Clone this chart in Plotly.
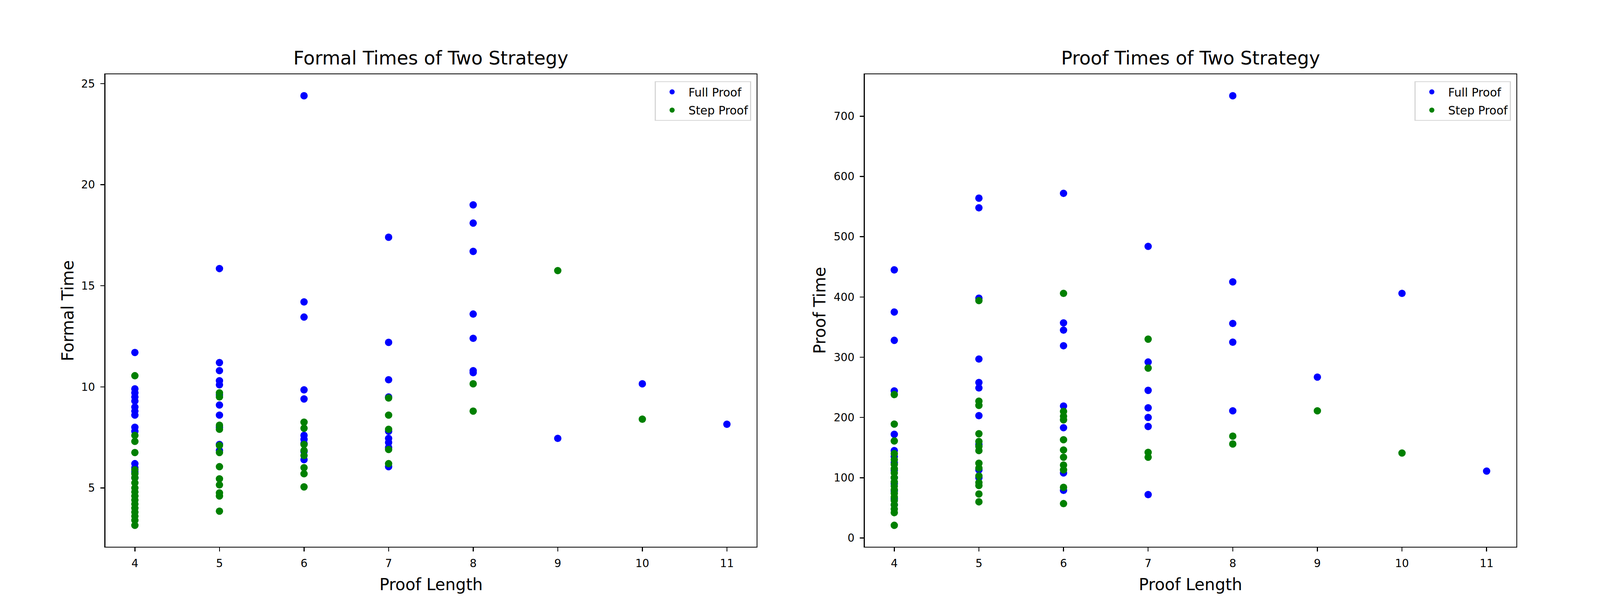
import plotly.graph_objects as go

# ---------------- data ----------------
lengths_ticks = [4, 5, 6, 7, 8, 9, 10, 11]

formal_full_len = [4, 4, 4, 4, 4, 4, 4, 4, 4, 4, 4, 4, 4, 4,
                   5, 5, 5, 5, 5, 5, 5, 5, 5, 5, 5,
                   6, 6, 6, 6, 6, 6, 6, 6, 6, 6,
                   7, 7, 7, 7, 7, 7, 7, 7, 7,
                   8, 8, 8, 8, 8, 8, 8,
                   9, 10, 11]
formal_full_time = [11.7, 9.9, 9.7, 9.5, 9.3, 9.0, 8.8, 8.6, 8.0, 7.8, 6.2, 6.0, 5.8, 5.5,
                    15.85, 11.2, 10.8, 10.3, 10.1, 9.6, 9.1, 8.6, 8.0, 7.15, 6.85,
                    24.4, 14.2, 13.45, 9.85, 9.4, 7.6, 7.4, 7.2, 6.8, 6.4,
                    17.4, 12.2, 10.35, 9.5, 7.8, 7.45, 7.25, 7.0, 6.05,
                    19.0, 18.1, 16.7, 13.6, 12.4, 10.8, 10.7,
                    7.45, 10.15, 8.15]

formal_step_len = [4, 4, 4, 4, 4, 4, 4, 4, 4, 4, 4, 4, 4, 4, 4, 4, 4, 4,
                   5, 5, 5, 5, 5, 5, 5, 5, 5, 5, 5, 5,
                   6, 6, 6, 6, 6, 6, 6, 6,
                   7, 7, 7, 7, 7,
                   8, 8,
                   9, 10]
formal_step_time = [10.55, 7.6, 7.3, 6.75, 5.9, 5.7, 5.5, 5.25, 5.0, 4.8, 4.6, 4.4, 4.2, 4.0, 3.8, 3.6, 3.4, 3.15,
                    9.7, 9.5, 8.1, 7.9, 7.1, 6.75, 6.05, 5.45, 5.15, 4.75, 4.6, 3.85,
                    8.25, 7.95, 7.15, 6.85, 6.6, 6.0, 5.7, 5.05,
                    9.45, 8.6, 7.9, 6.9, 6.2,
                    10.15, 8.8,
                    15.75, 8.4]

proof_full_len = [4, 4, 4, 4, 4, 4, 4, 4, 4, 4, 4, 4, 4, 4,
                  5, 5, 5, 5, 5, 5, 5, 5, 5, 5,
                  6, 6, 6, 6, 6, 6, 6, 6,
                  7, 7, 7, 7, 7, 7, 7,
                  8, 8, 8, 8, 8,
                  9, 10, 11]
proof_full_time = [445, 375, 328, 244, 172, 145, 135, 125, 112, 100, 90, 78, 65, 55,
                   564, 548, 398, 297, 258, 249, 203, 155, 113, 100,
                   572, 357, 345, 319, 219, 183, 108, 79,
                   484, 292, 245, 216, 200, 185, 72,
                   734, 425, 356, 325, 211,
                   267, 406, 111]

proof_step_len = [4, 4, 4, 4, 4, 4, 4, 4, 4, 4, 4, 4, 4, 4, 4, 4, 4, 4, 4,
                  5, 5, 5, 5, 5, 5, 5, 5, 5, 5, 5, 5, 5, 5,
                  6, 6, 6, 6, 6, 6, 6, 6, 6, 6, 6,
                  7, 7, 7, 7,
                  8, 8,
                  9, 10]
proof_step_time = [238, 189, 161, 140, 130, 122, 115, 108, 100, 93, 86, 80, 74, 68, 62, 55, 48, 42, 21,
                   394, 227, 220, 173, 160, 152, 145, 124, 116, 103, 92, 87, 73, 60,
                   406, 210, 202, 196, 163, 146, 134, 121, 113, 84, 57,
                   330, 282, 142, 134,
                   169, 156,
                   211, 141]

formal_yticks = [5, 10, 15, 20, 25]
proof_yticks = [0, 100, 200, 300, 400, 500, 600, 700]

# ---------------- layout constants (design pixels) ----------------
W, H = 4985, 1571
FONT = "DejaVu Sans"
TICK_FS = 34
LABEL_FS = 51
TITLE_FS = 58
LEG_FS = 36
MS = 23


def px_x(p):
    return p / W


def px_y(p):
    return 1 - p / H


ax_top, ax_bot = 190, 1399
left_dom = [px_x(328), px_x(2357)]
right_dom = [px_x(2694), px_x(4724)]
ydom = [px_y(ax_bot), px_y(ax_top)]

fig = go.Figure()

fig.add_trace(go.Scatter(x=formal_full_len, y=formal_full_time, mode="markers",
                         name="Full Proof", marker=dict(color="blue", size=MS, line=dict(width=0)),
                         xaxis="x", yaxis="y", legend="legend", legendgroup="a"))
fig.add_trace(go.Scatter(x=formal_step_len, y=formal_step_time, mode="markers",
                         name="Step Proof", marker=dict(color="green", size=MS, line=dict(width=0)),
                         xaxis="x", yaxis="y", legend="legend", legendgroup="b"))
fig.add_trace(go.Scatter(x=proof_full_len, y=proof_full_time, mode="markers",
                         name="Full Proof", marker=dict(color="blue", size=MS, line=dict(width=0)),
                         xaxis="x2", yaxis="y2", legend="legend2", legendgroup="c"))
fig.add_trace(go.Scatter(x=proof_step_len, y=proof_step_time, mode="markers",
                         name="Step Proof", marker=dict(color="green", size=MS, line=dict(width=0)),
                         xaxis="x2", yaxis="y2", legend="legend2", legendgroup="d"))

axis_common = dict(showline=True, linecolor="black", linewidth=3, mirror=True,
                   showgrid=False, zeroline=False, ticks="outside", ticklen=12,
                   tickwidth=3, tickcolor="black",
                   tickfont=dict(family=FONT, size=TICK_FS, color="black"))


def pad_range(vals, frac=0.05):
    lo, hi = min(vals), max(vals)
    d = (hi - lo) * frac
    return [lo - d, hi + d]


x1_range = pad_range(formal_full_len + formal_step_len)
x2_range = pad_range(proof_full_len + proof_step_len)
y1_range = pad_range(formal_full_time + formal_step_time)
y2_range = pad_range(proof_full_time + proof_step_time)

legend_common = dict(font=dict(family=FONT, size=LEG_FS, color="black"),
                     bgcolor="rgba(255,255,255,0.8)", bordercolor="#d6d6d6", borderwidth=3,
                     xanchor="right", yanchor="top", itemwidth=92, tracegroupgap=7,
                     traceorder="grouped")

fig.update_layout(
    width=W, height=H,
    margin=dict(l=0, r=0, t=0, b=0),
    paper_bgcolor="white", plot_bgcolor="white",
    font=dict(family=FONT, color="black"),
    showlegend=True,
    xaxis=dict(domain=left_dom, anchor="y", range=x1_range, tickvals=lengths_ticks,
               ticklabelstandoff=8, **axis_common),
    yaxis=dict(domain=ydom, anchor="x", range=y1_range, tickvals=formal_yticks,
               ticklabelstandoff=10, **axis_common),
    xaxis2=dict(domain=right_dom, anchor="y2", range=x2_range, tickvals=lengths_ticks,
                ticklabelstandoff=8, **axis_common),
    yaxis2=dict(domain=ydom, anchor="x2", range=y2_range, tickvals=proof_yticks,
                ticklabelstandoff=10, **axis_common),
    legend=dict(x=px_x(2340), y=px_y(208), **legend_common),
    legend2=dict(x=px_x(4707), y=px_y(208), **legend_common),
)


def ann(text, x, y, size, angle=0):
    fig.add_annotation(text=text, x=x, y=y, xref="paper", yref="paper",
                       xanchor="center", yanchor="middle", showarrow=False,
                       textangle=angle, font=dict(family=FONT, size=size, color="black"))


ann("Formal Times of Two Strategy", (left_dom[0] + left_dom[1]) / 2, px_y(149), TITLE_FS)
ann("Proof Times of Two Strategy", (right_dom[0] + right_dom[1]) / 2, px_y(149), TITLE_FS)
ann("Proof Length", (left_dom[0] + left_dom[1]) / 2, px_y(1496), LABEL_FS)
ann("Proof Length", (right_dom[0] + right_dom[1]) / 2, px_y(1496), LABEL_FS)
ann("Formal Time", px_x(212), (ydom[0] + ydom[1]) / 2, LABEL_FS, -90)
ann("Proof Time", px_x(2555), (ydom[0] + ydom[1]) / 2, LABEL_FS, -90)

# fit the design-size figure to the browser window: uniform scale from the width,
# paper height stretched so the layout fills the whole window proportionally
fit_script = """
var gd = document.getElementById('{plot_id}');
document.documentElement.style.margin = '0';
document.body.style.margin = '0';
document.documentElement.style.overflow = 'hidden';
document.body.style.overflow = 'hidden';
var vw = window.innerWidth, vh = window.innerHeight;
var s = vw / %d;
var hd = vh / s;
var wrap = gd.parentElement;
wrap.style.width = vw + 'px';
wrap.style.height = vh + 'px';
wrap.style.overflow = 'hidden';
gd.style.height = hd + 'px';
gd.style.transformOrigin = '0 0';
gd.style.transform = 'scale(' + s + ')';
Plotly.relayout(gd, {height: hd});
""" % W

fig.write_html("out.html", post_script=fit_script, config={"displayModeBar": False})
